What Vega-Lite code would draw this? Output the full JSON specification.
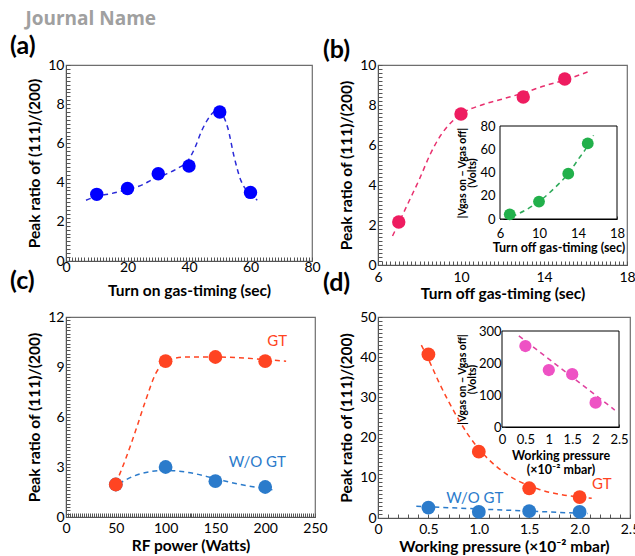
{
  "$schema": "https://vega.github.io/schema/vega-lite/v6.json",
  "padding": {"left": 9, "top": 10, "right": 0, "bottom": 0},
  "title": {"text": "Journal Name", "anchor": "start", "frame": "bounds", "color": "#a0a0a0", "font": "Open Sans", "fontSize": 19, "fontWeight": "bold", "dx": 16, "offset": 4},
  "datasets": {
    "aPts": [{"x": 10, "y": 3.4}, {"x": 20, "y": 3.7}, {"x": 30, "y": 4.45}, {"x": 40, "y": 4.85}, {"x": 50, "y": 7.6}, {"x": 60, "y": 3.5}],
    "aFit": [{"x": 6.5, "y": 3.1}, {"x": 10, "y": 3.3}, {"x": 15, "y": 3.45}, {"x": 20, "y": 3.65}, {"x": 25, "y": 3.9}, {"x": 28, "y": 4.15}, {"x": 32, "y": 4.4}, {"x": 36, "y": 4.7}, {"x": 40, "y": 5.2}, {"x": 42, "y": 5.8}, {"x": 44, "y": 6.6}, {"x": 46, "y": 7.2}, {"x": 48, "y": 7.6}, {"x": 49.5, "y": 7.7}, {"x": 51, "y": 7.45}, {"x": 52.6, "y": 6.8}, {"x": 54.7, "y": 5.3}, {"x": 56.9, "y": 4.1}, {"x": 58.5, "y": 3.65}, {"x": 60.1, "y": 3.4}, {"x": 62.2, "y": 3.1}],
    "bPts": [{"x": 7, "y": 2.15}, {"x": 10, "y": 7.55}, {"x": 13, "y": 8.4}, {"x": 15, "y": 9.3}],
    "bFit": [{"x": 6.7, "y": 1.45}, {"x": 7, "y": 2.1}, {"x": 7.5, "y": 3.2}, {"x": 8, "y": 4.3}, {"x": 8.5, "y": 5.5}, {"x": 9, "y": 6.45}, {"x": 9.5, "y": 7.1}, {"x": 10, "y": 7.55}, {"x": 11, "y": 8.0}, {"x": 12, "y": 8.3}, {"x": 13, "y": 8.6}, {"x": 14, "y": 8.95}, {"x": 15, "y": 9.25}, {"x": 16.1, "y": 9.65}],
    "gPts": [{"x": 7, "y": 4}, {"x": 10, "y": 15}, {"x": 13, "y": 39}, {"x": 15, "y": 65}],
    "gFit": [{"x": 7.2, "y": 2}, {"x": 8, "y": 5}, {"x": 9, "y": 9.5}, {"x": 10, "y": 15}, {"x": 11, "y": 22}, {"x": 12, "y": 30}, {"x": 13, "y": 39}, {"x": 14, "y": 51}, {"x": 15, "y": 63}, {"x": 15.6, "y": 72}],
    "cPts": [{"x": 50, "y": 1.95, "s": "W/O GT"}, {"x": 100, "y": 3.0, "s": "W/O GT"}, {"x": 150, "y": 2.15, "s": "W/O GT"}, {"x": 200, "y": 1.8, "s": "W/O GT"}, {"x": 50, "y": 1.95, "s": "GT"}, {"x": 100, "y": 9.35, "s": "GT"}, {"x": 150, "y": 9.6, "s": "GT"}, {"x": 200, "y": 9.35, "s": "GT"}],
    "cFit": [{"x": 53, "y": 2.0, "s": "W/O GT"}, {"x": 75, "y": 2.6, "s": "W/O GT"}, {"x": 100, "y": 2.8, "s": "W/O GT"}, {"x": 125, "y": 2.65, "s": "W/O GT"}, {"x": 150, "y": 2.3, "s": "W/O GT"}, {"x": 175, "y": 1.95, "s": "W/O GT"}, {"x": 200, "y": 1.7, "s": "W/O GT"}, {"x": 211, "y": 1.6, "s": "W/O GT"},
             {"x": 50, "y": 2.0, "s": "GT"}, {"x": 60, "y": 3.5, "s": "GT"}, {"x": 70, "y": 5.2, "s": "GT"}, {"x": 80, "y": 7.0, "s": "GT"}, {"x": 90, "y": 8.6, "s": "GT"}, {"x": 97, "y": 9.2, "s": "GT"}, {"x": 105, "y": 9.45, "s": "GT"}, {"x": 120, "y": 9.6, "s": "GT"}, {"x": 150, "y": 9.6, "s": "GT"}, {"x": 200, "y": 9.45, "s": "GT"}, {"x": 221, "y": 9.35, "s": "GT"}],
    "cLab": [{"x": 212, "y": 10.55, "s": "GT"}, {"x": 192, "y": 3.3, "s": "W/O GT"}],
    "dPts": [{"x": 0.5, "y": 2.6, "s": "W/O GT"}, {"x": 1.0, "y": 1.5, "s": "W/O GT"}, {"x": 1.5, "y": 1.7, "s": "W/O GT"}, {"x": 2.0, "y": 1.5, "s": "W/O GT"}, {"x": 0.5, "y": 40.7, "s": "GT"}, {"x": 1.0, "y": 16.5, "s": "GT"}, {"x": 1.5, "y": 7.4, "s": "GT"}, {"x": 2.0, "y": 5.2, "s": "GT"}],
    "dFit": [{"x": 0.38, "y": 2.9, "s": "W/O GT"}, {"x": 2.08, "y": 1.1, "s": "W/O GT"},
             {"x": 0.43, "y": 43, "s": "GT"}, {"x": 0.5, "y": 39.5, "s": "GT"}, {"x": 0.6, "y": 34, "s": "GT"}, {"x": 0.7, "y": 29, "s": "GT"}, {"x": 0.8, "y": 24.5, "s": "GT"}, {"x": 0.9, "y": 20.5, "s": "GT"}, {"x": 1.0, "y": 17.2, "s": "GT"}, {"x": 1.1, "y": 14.5, "s": "GT"}, {"x": 1.2, "y": 12.3, "s": "GT"}, {"x": 1.3, "y": 10.5, "s": "GT"}, {"x": 1.4, "y": 9.1, "s": "GT"}, {"x": 1.5, "y": 8.0, "s": "GT"}, {"x": 1.6, "y": 7.1, "s": "GT"}, {"x": 1.7, "y": 6.4, "s": "GT"}, {"x": 1.8, "y": 5.9, "s": "GT"}, {"x": 1.9, "y": 5.5, "s": "GT"}, {"x": 2.0, "y": 5.2, "s": "GT"}, {"x": 2.12, "y": 4.9, "s": "GT"}],
    "dLab": [{"x": 2.22, "y": 8.4, "s": "GT"}, {"x": 0.96, "y": 5.0, "s": "W/O GT"}],
    "ePts": [{"x": 0.5, "y": 253}, {"x": 1.0, "y": 178}, {"x": 1.5, "y": 165}, {"x": 2.0, "y": 76}],
    "eFit": [{"x": 0.36, "y": 285}, {"x": 2.41, "y": 53}],
    "box": [{"id": 1}]
  },
  "columns": 2,
  "concat": [
    {
      "width": 246, "height": 196,
      "title": {"text": "(a)", "anchor": "start", "frame": "group", "dx": -56, "offset": -1, "fontSize": 25, "fontWeight": "bold", "font": "Lato"},
      "layer": [
        {"data": {"name": "aFit"}, "mark": {"type": "line", "color": "#2b2bd8", "strokeDash": [5, 4], "strokeWidth": 1.5, "interpolate": "monotone"},
         "encoding": {
           "x": {"field": "x", "type": "quantitative", "scale": {"domain": [0, 80], "nice": false}, "axis": {"title": "Turn on gas-timing (sec)", "tickCount": 80, "labelPadding": 3, "titlePadding": 9, "labelExpr": "datum.value % 20 == 0 ? format(datum.value, 'd') : ''"}},
           "y": {"field": "y", "type": "quantitative", "scale": {"domain": [0, 10], "nice": false}, "axis": {"title": "Peak ratio of (111)/(200)", "tickCount": 50, "labelExpr": "datum.value % 2 == 0 ? format(datum.value, 'd') : ''"}}
         }},
        {"data": {"name": "aPts"}, "mark": {"type": "circle", "size": 180, "color": "#0000ff", "opacity": 1},
         "encoding": {"x": {"field": "x", "type": "quantitative"}, "y": {"field": "y", "type": "quantitative"}}}
      ]
    },
    {
      "width": 249, "height": 200,
      "title": {"text": "(b)", "anchor": "start", "frame": "group", "dx": -55, "offset": -5, "fontSize": 25, "fontWeight": "bold", "font": "Lato"},
      "layer": [
        {"layer": [
          {"data": {"name": "bFit"}, "mark": {"type": "line", "color": "#e8306e", "strokeDash": [5, 4], "strokeWidth": 1.5, "interpolate": "monotone"},
           "encoding": {
             "x": {"field": "x", "type": "quantitative", "scale": {"domain": [6, 18], "nice": false}, "axis": {"title": "Turn off gas-timing (sec)", "tickCount": 60, "labelPadding": 9, "titlePadding": 2, "labelExpr": "(datum.value - 6) % 4 == 0 ? format(datum.value, 'd') : ''"}},
             "y": {"field": "y", "type": "quantitative", "scale": {"domain": [0, 10], "nice": false}, "axis": {"title": "Peak ratio of (111)/(200)", "orient": "left", "tickCount": 50, "labelExpr": "datum.value % 2 == 0 ? format(datum.value, 'd') : ''"}}
           }},
          {"data": {"name": "bPts"}, "mark": {"type": "circle", "size": 180, "color": "#ee1c60", "opacity": 1},
           "encoding": {"x": {"field": "x", "type": "quantitative"}, "y": {"field": "y", "type": "quantitative"}}}
        ]},
        {"layer": [
          {"data": {"name": "box"}, "mark": {"type": "rect", "fill": "white", "stroke": "#000000", "strokeWidth": 1},
           "encoding": {
             "x": {"datum": 6, "type": "quantitative", "scale": {"domain": [6, 18], "range": [122, 239], "nice": false, "zero": false},
                   "axis": {"orient": "bottom", "offset": -46, "title": "Turn off gas-timing (sec)", "titleFontSize": 12.5, "titlePadding": 1, "labelFontSize": 13, "tickCount": 24, "tickSize": -3, "labelPadding": 11, "domainColor": "#000", "labelExpr": "(datum.value - 6) % 4 == 0 ? format(datum.value, 'd') : ''"}},
             "x2": {"datum": 18},
             "y": {"datum": 0, "type": "quantitative", "scale": {"domain": [0, 80], "range": [154, 61], "nice": false},
                   "axis": {"orient": "left", "offset": -122, "title": ["|Vgas on − Vgas off|", "(Volts)"], "titleFontSize": 10.5, "titlePadding": 2, "titleLineHeight": 10, "labelFontSize": 13, "tickCount": 40, "tickSize": -3, "labelPadding": 8, "domainColor": "#000", "labelExpr": "datum.value % 20 == 0 ? format(datum.value, 'd') : ''"}},
             "y2": {"datum": 80}
           }},
          {"data": {"name": "gFit"}, "mark": {"type": "line", "color": "#2faa5a", "strokeDash": [5, 4], "strokeWidth": 1.5, "interpolate": "monotone"},
           "encoding": {"x": {"field": "x", "type": "quantitative"}, "y": {"field": "y", "type": "quantitative"}}},
          {"data": {"name": "gPts"}, "mark": {"type": "circle", "size": 140, "color": "#22b04b", "opacity": 1},
           "encoding": {"x": {"field": "x", "type": "quantitative"}, "y": {"field": "y", "type": "quantitative"}}}
        ]}
      ],
      "resolve": {"scale": {"x": "independent", "y": "independent"}}
    },
    {
      "width": 249, "height": 200,
      "title": {"text": "(c)", "anchor": "start", "frame": "group", "dx": -56, "offset": 16, "fontSize": 25, "fontWeight": "bold", "font": "Lato"},
      "layer": [
        {"data": {"name": "cFit"}, "mark": {"type": "line", "strokeDash": [5, 4], "strokeWidth": 1.5, "interpolate": "monotone"},
         "encoding": {
           "x": {"field": "x", "type": "quantitative", "scale": {"domain": [0, 250], "nice": false}, "axis": {"title": "RF power (Watts)", "tickCount": 100, "labelPadding": 8, "titlePadding": 3, "labelExpr": "datum.value % 50 == 0 ? format(datum.value, 'd') : ''"}},
           "y": {"field": "y", "type": "quantitative", "scale": {"domain": [0, 12], "nice": false}, "axis": {"title": "Peak ratio of (111)/(200)", "tickCount": 48, "labelExpr": "datum.value % 3 == 0 ? format(datum.value, 'd') : ''"}},
           "color": {"field": "s", "type": "nominal", "scale": {"domain": ["GT", "W/O GT"], "range": ["#ff4422", "#2b7bcb"]}, "legend": null},
           "detail": {"field": "s"}
         }},
        {"data": {"name": "cPts"}, "mark": {"type": "circle", "size": 190, "opacity": 1},
         "encoding": {"x": {"field": "x", "type": "quantitative"}, "y": {"field": "y", "type": "quantitative"}, "color": {"field": "s", "type": "nominal", "legend": null}}},
        {"data": {"name": "cLab"}, "mark": {"type": "text", "fontSize": 15, "font": "Lato", "align": "center", "baseline": "middle"},
         "encoding": {"x": {"field": "x", "type": "quantitative"}, "y": {"field": "y", "type": "quantitative"}, "text": {"field": "s"}, "color": {"field": "s", "type": "nominal", "legend": null}}}
      ]
    },
    {
      "width": 252, "height": 201,
      "title": {"text": "(d)", "anchor": "start", "frame": "group", "dx": -55, "offset": 14, "fontSize": 25, "fontWeight": "bold", "font": "Lato"},
      "layer": [
        {"layer": [
          {"data": {"name": "dFit"}, "mark": {"type": "line", "strokeDash": [5, 4], "strokeWidth": 1.5, "interpolate": "monotone"},
           "encoding": {
             "x": {"field": "x", "type": "quantitative", "scale": {"domain": [0, 2.5], "nice": false}, "axis": {"title": "Working pressure (×10⁻² mbar)", "tickCount": 25, "labelPadding": 8, "titlePadding": 3, "labelExpr": "abs(datum.value * 2 - round(datum.value * 2)) < 0.000001 ? (datum.value == 0 ? '0' : format(datum.value, '.1f')) : ''"}},
             "y": {"field": "y", "type": "quantitative", "scale": {"domain": [0, 50], "nice": false}, "axis": {"title": "Peak ratio of (111)/(200)", "orient": "left", "tickCount": 50, "labelExpr": "datum.value % 10 == 0 ? format(datum.value, 'd') : ''"}},
             "color": {"field": "s", "type": "nominal", "scale": {"domain": ["GT", "W/O GT"], "range": ["#ff4422", "#2b7bcb"]}, "legend": null},
             "detail": {"field": "s"}
           }},
          {"data": {"name": "dPts"}, "mark": {"type": "circle", "size": 190, "opacity": 1},
           "encoding": {"x": {"field": "x", "type": "quantitative"}, "y": {"field": "y", "type": "quantitative"}, "color": {"field": "s", "type": "nominal", "legend": null}}},
          {"data": {"name": "dLab"}, "mark": {"type": "text", "fontSize": 15, "font": "Lato", "align": "center", "baseline": "middle"},
           "encoding": {"x": {"field": "x", "type": "quantitative"}, "y": {"field": "y", "type": "quantitative"}, "text": {"field": "s"}, "color": {"field": "s", "type": "nominal", "legend": null}}}
        ]},
        {"layer": [
          {"data": {"name": "box"}, "mark": {"type": "rect", "fill": "white", "stroke": "#000000", "strokeWidth": 1},
           "encoding": {
             "x": {"datum": 0, "type": "quantitative", "scale": {"domain": [0, 2.5], "range": [124, 241], "nice": false},
                   "axis": {"orient": "bottom", "offset": -91, "title": ["Working pressure", "(×10⁻² mbar)"], "titleFontSize": 12.5, "titlePadding": 3, "titleLineHeight": 14, "labelFontSize": 13, "tickCount": 25, "tickSize": -3, "labelPadding": 9, "domainColor": "#000", "labelExpr": "abs(datum.value * 2 - round(datum.value * 2)) < 0.000001 ? format(datum.value, '~g') : ''"}},
             "x2": {"datum": 2.5},
             "y": {"datum": 0, "type": "quantitative", "scale": {"domain": [0, 300], "range": [110, 14], "nice": false},
                   "axis": {"orient": "left", "offset": -124, "title": ["|Vgas on − Vgas off|", "(Volts)"], "titleFontSize": 10.5, "titlePadding": 1, "titleLineHeight": 10, "labelFontSize": 13, "tickCount": 30, "tickSize": -3, "labelPadding": 4, "domainColor": "#000", "labelExpr": "datum.value % 100 == 0 ? format(datum.value, 'd') : ''"}},
             "y2": {"datum": 300}
           }},
          {"data": {"name": "eFit"}, "mark": {"type": "line", "color": "#e0409f", "strokeDash": [5, 4], "strokeWidth": 1.5},
           "encoding": {"x": {"field": "x", "type": "quantitative"}, "y": {"field": "y", "type": "quantitative"}}},
          {"data": {"name": "ePts"}, "mark": {"type": "circle", "size": 150, "color": "#ee52c4", "opacity": 1},
           "encoding": {"x": {"field": "x", "type": "quantitative"}, "y": {"field": "y", "type": "quantitative"}}}
        ]}
      ],
      "resolve": {"scale": {"x": "independent", "y": "independent"}}
    }
  ],
  "spacing": {"row": 52, "column": 63},
  "bounds": "flush",
  "config": {
    "font": "Lato",
    "view": {"stroke": "#6e6e6e", "strokeWidth": 1.2},
    "axis": {"grid": false, "labelFont": "Lato", "labelFontSize": 14, "labelColor": "#000000", "titleFont": "Lato", "titleFontSize": 15.5, "titleFontWeight": "bold", "titleColor": "#000000", "domainColor": "#555555", "tickColor": "#555555", "tickSize": -4, "labelPadding": 6, "labelOverlap": false, "labelFlush": false, "titlePadding": 5}
  }
}
